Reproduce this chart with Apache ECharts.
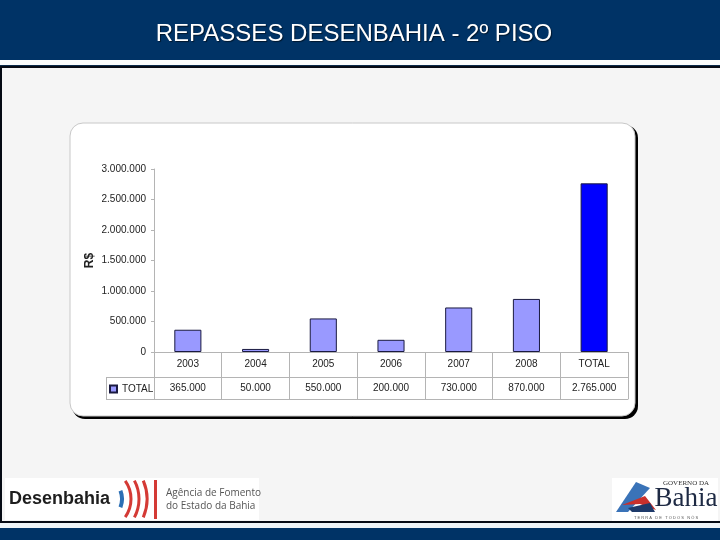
<!DOCTYPE html>
<html><head><meta charset="utf-8">
<script src="https://cdn.jsdelivr.net/npm/echarts@6/dist/echarts.min.js"></script>
<style>html,body{margin:0;padding:0;background:#f5f5f5}#c{width:720px;height:540px}</style>
</head><body><div id="c"></div>
<script>
const categories = ['2003','2004','2005','2006','2007','2008','TOTAL'];
const values = [365000, 50000, 550000, 200000, 730000, 870000, 2765000];
const seriesName = 'TOTAL';
const yTicks = {min: 0, max: 3000000, interval: 500000};
const titleText = 'REPASSES DESENBAHIA - 2º PISO';

function fmt(v){ return String(Math.round(v)).replace(/\B(?=(\d{3})+(?!\d))/g, '.'); }

const FONT = '"Liberation Sans", Arial, sans-serif';
const gl = 154, gr = 628, gt = 169, gb = 352;
const row1 = 377, row2 = 399, legL = 106;
const gray = '#b4b4b4';

const chart = echarts.init(document.getElementById('c'), null, {renderer:'canvas'});
const bg = [
  {type:'rect', z:-20, shape:{x:0,y:0,width:720,height:540}, style:{fill:'#f5f5f5'}},
  {type:'rect', z:-19, shape:{x:0,y:0,width:720,height:60}, style:{fill:'#003366'}},
  {type:'rect', z:-19, shape:{x:0,y:60,width:720,height:5}, style:{fill:'#fafcfc'}},
  {type:'rect', z:-19, shape:{x:0,y:65,width:720,height:1}, style:{fill:'#0a2a4a'}},
  {type:'rect', z:-19, shape:{x:0,y:66,width:720,height:2}, style:{fill:'#050a14'}},
  {type:'rect', z:-19, shape:{x:0,y:66,width:2,height:457}, style:{fill:'#050a14'}},
  {type:'rect', z:-19, shape:{x:0,y:521,width:720,height:2}, style:{fill:'#050a14'}},
  {type:'rect', z:-19, shape:{x:0,y:523,width:720,height:5}, style:{fill:'#eef4f8'}},
  {type:'rect', z:-19, shape:{x:0,y:528,width:720,height:12}, style:{fill:'#003366'}},
  {type:'text', z:-18, x:354, y:34, style:{text:titleText, fill:'#ffffff', font:'24px '+FONT, align:'center', verticalAlign:'middle', textShadowColor:'rgba(0,0,0,0.55)', textShadowOffsetX:1, textShadowOffsetY:1, textShadowBlur:1}},
  // chart box with shadow
  {type:'rect', z:-17, shape:{x:72,y:125,width:566,height:294,r:13}, style:{fill:'#000000'}},
  {type:'rect', z:-16, shape:{x:70,y:123,width:565,height:293,r:13}, style:{fill:'#ffffff', stroke:'#c8c8c8', lineWidth:1}},
  // table lines left legend cell
  {type:'line', z:5, shape:{x1:legL,y1:row1+0.5,x2:gl,y2:row1+0.5}, style:{stroke:gray,lineWidth:1}},
  {type:'line', z:5, shape:{x1:legL,y1:row2+0.5,x2:gl,y2:row2+0.5}, style:{stroke:gray,lineWidth:1}},
  {type:'line', z:5, shape:{x1:legL+0.5,y1:row1,x2:legL+0.5,y2:row2+1}, style:{stroke:gray,lineWidth:1}},
  // Desenbahia logo
  {type:'rect', z:-15, shape:{x:5,y:478,width:254,height:42}, style:{fill:'#ffffff'}},
  {type:'text', z:-14, x:9, y:499, style:{text:'Desenbahia', fill:'#1e1e1e', font:'bold 18px '+FONT, verticalAlign:'middle'}},
  {type:'arc', z:-14, shape:{cx:100,cy:499,r:22,startAngle:-0.38,endAngle:0.38}, style:{stroke:'#2a6fb5',lineWidth:4,fill:null}},
  {type:'arc', z:-14, shape:{cx:100,cy:499,r:31,startAngle:-0.62,endAngle:0.62}, style:{stroke:'#d43a35',lineWidth:3,fill:null}},
  {type:'arc', z:-14, shape:{cx:100,cy:499,r:39,startAngle:-0.49,endAngle:0.49}, style:{stroke:'#d43a35',lineWidth:3,fill:null}},
  {type:'arc', z:-14, shape:{cx:100,cy:499,r:47,startAngle:-0.4,endAngle:0.4}, style:{stroke:'#d43a35',lineWidth:3,fill:null}},
  {type:'rect', z:-14, shape:{x:154,y:480,width:3,height:39}, style:{fill:'#d43a35'}},
  {type:'text', z:-14, x:166, y:493, style:{text:'Agência de Fomento', fill:'#555555', font:'10px "Open Sans", '+FONT, verticalAlign:'middle'}},
  {type:'text', z:-14, x:166, y:506, style:{text:'do Estado da Bahia', fill:'#555555', font:'10px "Open Sans", '+FONT, verticalAlign:'middle'}},
  // Governo da Bahia logo
  {type:'rect', z:-15, shape:{x:612,y:478,width:106,height:43}, style:{fill:'#ffffff'}},
  {type:'polygon', z:-14, shape:{points:[[616,512],[636,482],[650,488],[628,512]]}, style:{fill:'#3a73b8'}},
  {type:'polygon', z:-14, shape:{points:[[622,505],[645,496],[656,510],[640,504]]}, style:{fill:'#c8302c'}},
  {type:'polygon', z:-14, shape:{points:[[628,508],[650,503],[655,512],[632,512]]}, style:{fill:'#1e3a6a'}},
  {type:'text', z:-14, x:686, y:483, style:{text:'GOVERNO DA', fill:'#333333', font:'7px "Liberation Serif", serif', align:'center', verticalAlign:'middle'}},
  {type:'text', z:-14, x:686, y:499, style:{text:'Bahia', fill:'#1e2a44', font:'27px "Liberation Serif", serif', align:'center', verticalAlign:'middle'}},
  {type:'text', z:-14, x:666, y:518, style:{text:'T E R R A   D E   T O D O S   N Ó S', fill:'#555555', font:'4px '+FONT, align:'center', verticalAlign:'middle'}}
];

chart.setOption({
  animation:false,
  textStyle:{fontFamily:FONT},
  graphic:{elements:bg},
  legend:{data:[seriesName], left:legL+3, top:row1+7, padding:0, itemWidth:7, itemHeight:7, itemGap:3, icon:'rect',
    textStyle:{fontSize:10, color:'#222', fontFamily:FONT}},
  grid:{left:gl, right:720-gr, top:gt, bottom:540-gb, containLabel:false},
  xAxis:[
    {type:'category', data:categories, position:'bottom',
     axisLine:{show:true, lineStyle:{color:gray,width:1}},
     axisTick:{show:true, length:row2-gb, lineStyle:{color:gray}},
     axisLabel:{margin:7, fontSize:10, color:'#222', fontFamily:FONT, interval:0}},
    {type:'category', data:categories, position:'bottom', offset:row1-gb,
     axisLine:{show:true, lineStyle:{color:gray,width:1}},
     axisTick:{show:false},
     axisLabel:{margin:6, fontSize:10, color:'#222', fontFamily:FONT, interval:0,
       formatter:(v,i)=>fmt(values[i])}},
    {type:'category', data:categories, position:'bottom', offset:row2-gb,
     axisLine:{show:true, lineStyle:{color:gray,width:1}},
     axisTick:{show:false}, axisLabel:{show:false}}
  ],
  yAxis:{type:'value', min:yTicks.min, max:yTicks.max, interval:yTicks.interval,
    name:'R$', nameLocation:'middle', nameGap:58, nameRotate:90, nameMoveOverlap:false,
    nameTextStyle:{fontSize:12, fontWeight:'bold', color:'#222', fontFamily:FONT},
    axisLine:{show:true, lineStyle:{color:gray}},
    axisTick:{show:true, length:3, lineStyle:{color:gray}},
    splitLine:{show:false},
    axisLabel:{margin:8, fontSize:10, color:'#222', fontFamily:FONT, formatter:v=>fmt(v)}},
  series:[{name:seriesName, type:'bar', xAxisIndex:0, barWidth:'40%',
    itemStyle:{color:'#9999ff', borderColor:'#1a1a40', borderWidth:1},
    data:values.map((v,i)=> categories[i]==='TOTAL' ? {value:v, itemStyle:{color:'#0000ff'}} : v)}]
});
</script></body></html>
